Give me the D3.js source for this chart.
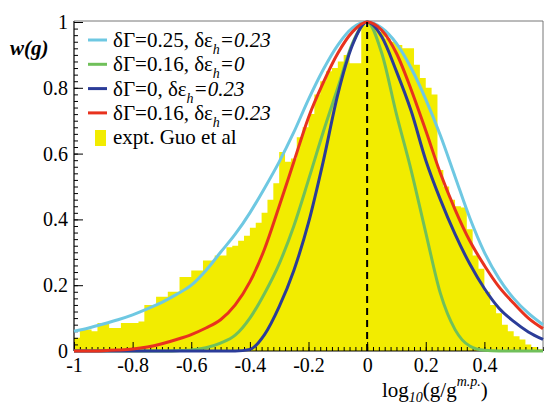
<!DOCTYPE html>
<html>
<head>
<meta charset="utf-8">
<script src="https://cdn.jsdelivr.net/npm/d3@7"></script>
<style>
  body {margin:0; background:#fff;}
  svg {display:block; font-family:"Liberation Serif","DejaVu Serif",serif;}
  .axis .domain {display:none;}
  .axis line {stroke:#000;}
</style>
</head>
<body>
<svg id="chart" width="545" height="405"></svg>
<script>
// curve sample points (log10 g/g_mp)
var curveX = [-1, -0.95, -0.9, -0.85, -0.8, -0.75, -0.7, -0.65, -0.6, -0.55, -0.5, -0.45, -0.4, -0.35, -0.3, -0.25, -0.2, -0.15, -0.1, -0.05,
              0, 0.05, 0.1, 0.15, 0.2, 0.25, 0.3, 0.35, 0.4, 0.45, 0.5, 0.55, 0.6];
var lightBlue = [0.06, 0.07, 0.082, 0.095, 0.11, 0.128, 0.148, 0.172, 0.20, 0.245, 0.30, 0.355, 0.42, 0.495, 0.575, 0.665, 0.765, 0.855, 0.93, 0.982,
                 1, 0.982, 0.935, 0.86, 0.765, 0.655, 0.53, 0.405, 0.30, 0.22, 0.16, 0.115, 0.08];
var green = [0, 0, 0, 0, 0, 0, 0, 0.001, 0.003, 0.01, 0.024, 0.048, 0.10, 0.175, 0.265, 0.38, 0.52, 0.665, 0.80, 0.935,
             1, 0.905, 0.72, 0.55, 0.36, 0.175, 0.065, 0.015, 0.002, 0, 0, 0, 0];
var blue = [0, 0, 0, 0, 0, 0, 0, 0, 0, 0, 0, 0, 0.005, 0.05, 0.135, 0.245, 0.39, 0.575, 0.78, 0.93,
            1, 0.955, 0.85, 0.73, 0.58, 0.46, 0.355, 0.265, 0.19, 0.13, 0.09, 0.058, 0.035];
var red = [0, 0, 0.001, 0.003, 0.006, 0.012, 0.022, 0.035, 0.05, 0.07, 0.095, 0.14, 0.21, 0.31, 0.44, 0.575, 0.71, 0.815, 0.905, 0.97,
           1, 0.975, 0.905, 0.795, 0.67, 0.54, 0.43, 0.335, 0.26, 0.195, 0.145, 0.10, 0.068];

// experimental histogram (lower bin edges, width 0.02)
var binWidth = 0.02;
var histLo = [-1.00, -0.98, -0.96, -0.94, -0.92, -0.90, -0.88, -0.86, -0.84, -0.82,
              -0.80, -0.78, -0.76, -0.74, -0.72, -0.70, -0.68, -0.66, -0.64, -0.62,
              -0.60, -0.58, -0.56, -0.54, -0.52, -0.50, -0.48, -0.46, -0.44, -0.42,
              -0.40, -0.38, -0.36, -0.34, -0.32, -0.30, -0.28, -0.26, -0.24, -0.22,
              -0.20, -0.18, -0.16, -0.14, -0.12, -0.10, -0.08, -0.06, -0.04, -0.02,
              0.00, 0.02, 0.04, 0.06, 0.08, 0.10, 0.12, 0.14, 0.16, 0.18,
              0.20, 0.22, 0.24, 0.26, 0.28, 0.30, 0.32, 0.34, 0.36, 0.38,
              0.40, 0.42, 0.44, 0.46, 0.48, 0.50, 0.52, 0.54, 0.56, 0.58];
var histH = [0.04, 0.065, 0.065, 0.06, 0.085, 0.085, 0.07, 0.07, 0.085, 0.085,
             0.085, 0.09, 0.14, 0.14, 0.165, 0.165, 0.18, 0.18, 0.225, 0.225,
             0.245, 0.245, 0.275, 0.275, 0.29, 0.29, 0.315, 0.32, 0.335, 0.35,
             0.375, 0.39, 0.42, 0.46, 0.51, 0.605, 0.575, 0.585, 0.65, 0.68,
             0.72, 0.78, 0.82, 0.85, 0.86, 0.88, 0.90, 0.875, 0.875, 0.99,
             1.0, 0.99, 0.97, 0.95, 0.94, 0.93, 0.92, 0.92, 0.87, 0.83,
             0.80, 0.78, 0.55, 0.50, 0.46, 0.44, 0.436, 0.37, 0.29, 0.25,
             0.18, 0.14, 0.115, 0.08, 0.06, 0.045, 0.035, 0.02, 0.012, 0.005];

var xTicks = [-1, -0.8, -0.6, -0.4, -0.2, 0, 0.2, 0.4];
var xTickLabels = ["-1", "-0.8", "-0.6", "-0.4", "-0.2", "0", "0.2", "0.4"];
var yTicks = [0, 0.2, 0.4, 0.6, 0.8, 1];
var yTickLabels = ["0", "0.2", "0.4", "0.6", "0.8", "1"];

var legendGamma = ["0.25", "0.16", "0", "0.16"];
var legendEps = ["=0.23", "=0", "=0.23", "=0.23"];
var legendColors = ["#6ec8e2", "#70c05a", "#2b3c98", "#e8321e"];
var histLabel = "expt. Guo et al";
var histColor = "#f2ec00";

var serif = "Liberation Serif";
var svg = d3.select("#chart");
var m = {left: 74, right: 543, top: 22, bottom: 351};

var x = d3.scaleLinear().domain([-1, 0.6]).range([m.left, m.right]);
var y = d3.scaleLinear().domain([0, 1]).range([m.bottom, m.top]);

// histogram as a step area
var histPts = histLo.map(function(d, i) { return [d, histH[i]]; });
histPts.push([histLo[histLo.length - 1] + binWidth, histH[histH.length - 1]]);
svg.append("path")
    .datum(histPts)
    .attr("fill", histColor)
    .attr("d", d3.area()
        .curve(d3.curveStepAfter)
        .x(function(d) { return x(d[0]); })
        .y0(y(0))
        .y1(function(d) { return y(d[1]); }));

// axes
var gx = svg.append("g").attr("class", "axis").attr("transform", "translate(0," + m.bottom + ")");
gx.call(d3.axisBottom(x).tickValues(d3.range(-1, 0.6001, 0.02)).tickSize(-4).tickFormat(""));
gx.append("g").call(d3.axisBottom(x).tickValues(xTicks).tickSize(-9).tickPadding(7)
    .tickFormat(function(d, i) { return xTickLabels[i]; }));

var gy = svg.append("g").attr("class", "axis").attr("transform", "translate(" + m.left + ",0)");
gy.call(d3.axisLeft(y).tickValues(d3.range(0, 1.0001, 0.02)).tickSize(-4).tickFormat(""));
gy.append("g").call(d3.axisLeft(y).tickValues(yTicks).tickSize(-9).tickPadding(6)
    .tickFormat(function(d, i) { return yTickLabels[i]; }));

svg.selectAll(".axis .domain").remove();
svg.selectAll(".axis text")
    .attr("font-family", serif)
    .attr("font-size", 20)
    .attr("fill", "#000");

// frame
svg.append("line").attr("x1", m.left).attr("x2", m.right).attr("y1", m.bottom).attr("y2", m.bottom).attr("stroke", "#000").attr("stroke-width", 1.2);
svg.append("line").attr("x1", m.left).attr("x2", m.left).attr("y1", m.top - 1).attr("y2", m.bottom).attr("stroke", "#000").attr("stroke-width", 1.2);
svg.append("line").attr("x1", m.left).attr("x2", m.right).attr("y1", m.top - 1).attr("y2", m.top - 1).attr("stroke", "#777").attr("stroke-width", 1);
svg.append("line").attr("x1", m.right).attr("x2", m.right).attr("y1", m.top - 1).attr("y2", m.bottom).attr("stroke", "#777").attr("stroke-width", 1);

// model curves
var line = d3.line()
    .curve(d3.curveMonotoneX)
    .x(function(d) { return x(d[0]); })
    .y(function(d) { return y(d[1]); });
[lightBlue, green, blue, red].forEach(function(s, k) {
    svg.append("path")
        .datum(curveX.map(function(v, i) { return [v, s[i]]; }))
        .attr("fill", "none")
        .attr("stroke", legendColors[k])
        .attr("stroke-width", 3)
        .attr("d", line);
});

// dashed line at 0
svg.append("line")
    .attr("x1", x(0)).attr("x2", x(0))
    .attr("y1", y(0)).attr("y2", y(1))
    .attr("stroke", "#000").attr("stroke-width", 2)
    .attr("stroke-dasharray", "7,5");

// axis titles
svg.append("text").attr("x", 10).attr("y", 55)
    .attr("font-family", serif)
    .attr("font-size", 21).attr("font-style", "italic").attr("font-weight", "bold")
    .text("w(g)");

var xt = svg.append("text").attr("x", 382).attr("y", 397)
    .attr("font-family", serif).attr("font-size", 21);
xt.append("tspan").text("log");
xt.append("tspan").attr("font-size", 14).attr("font-style", "italic").attr("dy", 5).text("10");
xt.append("tspan").attr("dy", -5).text("(g/g");
xt.append("tspan").attr("font-size", 14).attr("font-style", "italic").attr("dy", -11).text("m.p.");
xt.append("tspan").attr("dy", 11).text(")");

// legend
var lg = svg.append("g").attr("font-family", serif).attr("font-size", 21);
legendGamma.forEach(function(gv, i) {
    var cy = 40 + i * 24.3;
    lg.append("line").attr("x1", 88).attr("x2", 107).attr("y1", cy).attr("y2", cy)
        .attr("stroke", legendColors[i]).attr("stroke-width", 3);
    var t = lg.append("text").attr("x", 113).attr("y", cy + 7);
    t.append("tspan").text("δΓ=" + gv + ", δε");
    t.append("tspan").attr("font-size", 14).attr("font-style", "italic").attr("dy", 7).text("h");
    t.append("tspan").attr("font-style", "italic").attr("dy", -7).text(legendEps[i]);
});
lg.append("rect").attr("x", 95).attr("y", 130).attr("width", 11).attr("height", 16).attr("fill", histColor);
lg.append("text").attr("x", 113).attr("y", 144).text(histLabel);
</script>
</body>
</html>
